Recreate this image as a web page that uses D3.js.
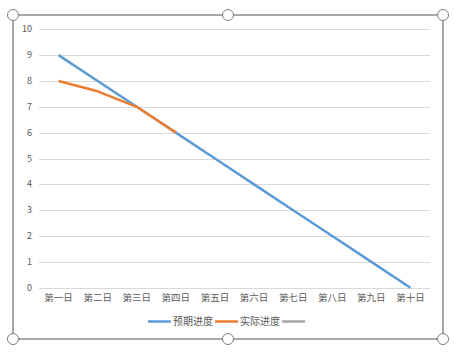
<!DOCTYPE html>
<html>
<head>
<meta charset="utf-8">
<script src="https://cdn.jsdelivr.net/npm/d3@7"></script>
<style>
  html, body { margin: 0; padding: 0; background: #fff; }
  text { font-family: "Noto Sans CJK SC", "Noto Sans", sans-serif; fill: #595959; }
</style>
</head>
<body>
<div id="chart"></div>
<script>
const days = ["第一日", "第二日", "第三日", "第四日", "第五日", "第六日", "第七日", "第八日", "第九日", "第十日"];
const planned = [9, 8, 7, 6, 5, 4, 3, 2, 1, 0];
const actual = [8, 7.6, 7, 6];
const yTicks = [0, 1, 2, 3, 4, 5, 6, 7, 8, 9, 10];
const seriesNames = ["预期进度", "实际进度", ""];
const colors = ["#5B9BD5", "#ED7D31", "#A5A5A5"];

const W = 454, H = 363;
const plot = { left: 39, right: 430, top: 29.3, bottom: 287.7 };

const svg = d3.select("#chart").append("svg")
  .attr("width", W)
  .attr("height", H);

const x = d3.scaleBand().domain(days).range([plot.left, plot.right]);
const y = d3.scaleLinear().domain([0, 10]).range([plot.bottom, plot.top]);

// gridlines
svg.append("g")
  .selectAll("line")
  .data(yTicks)
  .enter().append("line")
  .attr("x1", plot.left)
  .attr("x2", plot.right)
  .attr("y1", d => Math.round(y(d)) + 0.5)
  .attr("y2", d => Math.round(y(d)) + 0.5)
  .attr("stroke", "#D9D9D9")
  .attr("stroke-width", 1);

// y labels
svg.append("g")
  .selectAll("text")
  .data(yTicks)
  .enter().append("text")
  .attr("x", 32)
  .attr("y", d => y(d))
  .attr("dy", "0.35em")
  .attr("text-anchor", "end")
  .attr("font-size", "9px")
  .text(d => d);

// x labels
svg.append("g")
  .selectAll("text")
  .data(days)
  .enter().append("text")
  .attr("x", d => x(d) + x.bandwidth() / 2)
  .attr("y", 298)
  .attr("dy", "0.35em")
  .attr("text-anchor", "middle")
  .attr("font-size", "9.5px")
  .text(d => d);

const line = d3.line()
  .x((d, i) => x(days[i]) + x.bandwidth() / 2)
  .y(d => y(d));

svg.append("path")
  .datum(planned)
  .attr("d", line)
  .attr("fill", "none")
  .attr("stroke", colors[0])
  .attr("stroke-width", 2.5)
  .attr("stroke-linejoin", "round");

svg.append("path")
  .datum(actual)
  .attr("d", line)
  .attr("fill", "none")
  .attr("stroke", colors[1])
  .attr("stroke-width", 2.5)
  .attr("stroke-linejoin", "round");

// legend
const legendY = 321.5;
const legend = svg.append("g");
let lx = 148;
seriesNames.forEach((name, i) => {
  legend.append("line")
    .attr("x1", lx).attr("x2", lx + 23)
    .attr("y1", legendY).attr("y2", legendY)
    .attr("stroke", colors[i])
    .attr("stroke-width", 2.5);
  lx += 25;
  if (name) {
    const t = legend.append("text")
      .attr("x", lx)
      .attr("y", legendY)
      .attr("dy", "0.35em")
      .attr("font-size", "10px")
      .text(name);
    lx += t.node().getComputedTextLength() + 2;
  }
});

// selection frame and handles
svg.append("rect")
  .attr("x", 13).attr("y", 15)
  .attr("width", 430).attr("height", 324)
  .attr("fill", "none")
  .attr("stroke", "#8C8C8C")
  .attr("stroke-width", 1.5);

const handles = [[13, 15], [228, 15], [443, 15], [13, 339], [228, 339], [443, 339]];
svg.append("g")
  .selectAll("circle")
  .data(handles)
  .enter().append("circle")
  .attr("cx", d => d[0])
  .attr("cy", d => d[1])
  .attr("r", 5.5)
  .attr("fill", "#fff")
  .attr("stroke", "#7F7F7F")
  .attr("stroke-width", 1);
</script>
</body>
</html>
